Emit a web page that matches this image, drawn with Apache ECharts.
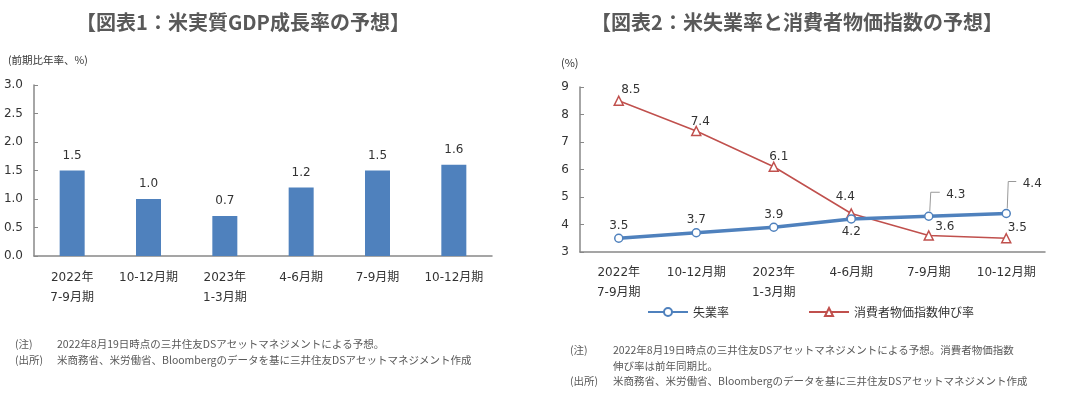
<!DOCTYPE html>
<html>
<head>
<meta charset="utf-8">
<script src="https://cdn.jsdelivr.net/npm/echarts@6/dist/echarts.min.js"></script>
<style>
  html, body { margin: 0; padding: 0; background: #fff; }
  #main { width: 1075px; height: 397px; }
</style>
</head>
<body>
<div id="main"></div>
<script>
// 四半期のカテゴリ
var quarters = ["2022年\n7-9月期", "10-12月期", "2023年\n1-3月期", "4-6月期", "7-9月期", "10-12月期"];
// 図表1：実質GDP成長率
var gdpGrowth = [1.5, 1.0, 0.7, 1.2, 1.5, 1.6];
// 図表2：失業率と消費者物価指数伸び率
var unemployment = [3.5, 3.7, 3.9, 4.2, 4.3, 4.4];
var cpiGrowth = [8.5, 7.4, 6.1, 4.4, 3.6, 3.5];

var numFont = "'DejaVu Sans', 'Noto Sans CJK JP', sans-serif";
var jpFont = "'Noto Sans CJK JP', sans-serif";
var textColor = "#333";
var noteColor = "#595959";
var axisColor = "#888";

var myChart = echarts.init(document.getElementById("main"));

// 引き出し線付きラベルのずれ（7-9月期, 10-12月期）
var leaderOffsets = { 4: [27, -9], 5: [26, -17] };

var unempData = unemployment.map(function (v, i) {
  var item = { value: v };
  if (i === 3) {
    item.label = { position: "bottom", distance: 2 };
  } else if (leaderOffsets[i]) {
    item.label = { offset: leaderOffsets[i] };
  }
  return item;
});

var cpiOffsets = [[12, 0], [4, 2], [5, 1], [-6, -5], [16, 3], [11, 1]];
var cpiData = cpiGrowth.map(function (v, i) {
  return { value: v, label: { offset: cpiOffsets[i] } };
});

function noteText(x, y, txt) {
  return {
    type: "text", left: x, top: y,
    style: { text: txt, font: "10.5px " + jpFont, fill: noteColor }
  };
}

var option = {
  animation: false,
  textStyle: { fontFamily: numFont },
  grid: [
    { left: 34, top: 85, width: 458, height: 171 },
    { left: 580, top: 87, width: 465, height: 165 }
  ],
  xAxis: [
    {
      gridIndex: 0, type: "category", data: quarters,
      axisLine: { lineStyle: { color: axisColor, width: 1.5 } },
      axisTick: { inside: true, length: 4, lineStyle: { color: axisColor } },
      axisLabel: { interval: 0, margin: 12, color: textColor, fontSize: 12, lineHeight: 20, fontFamily: numFont }
    },
    {
      gridIndex: 1, type: "category", data: quarters,
      axisLine: { lineStyle: { color: axisColor, width: 1.5 } },
      axisTick: { inside: true, length: 4, lineStyle: { color: axisColor } },
      axisLabel: { interval: 0, margin: 11, color: textColor, fontSize: 12, lineHeight: 20, fontFamily: numFont }
    }
  ],
  yAxis: [
    {
      gridIndex: 0, type: "value", min: 0, max: 3, interval: 0.5,
      axisLine: { show: true, lineStyle: { color: axisColor, width: 1.5 } },
      axisTick: { show: true, inside: true, length: 4, lineStyle: { color: axisColor } },
      splitLine: { show: false },
      axisLabel: {
        margin: 11, color: textColor, fontSize: 12, fontFamily: numFont,
        formatter: function (v) { return v.toFixed(1); }
      }
    },
    {
      gridIndex: 1, type: "value", min: 3, max: 9, interval: 1,
      axisLine: { show: true, lineStyle: { color: axisColor, width: 1.5 } },
      axisTick: { show: true, inside: true, length: 4, lineStyle: { color: axisColor } },
      splitLine: { show: false },
      axisLabel: { margin: 11, color: textColor, fontSize: 12, fontFamily: numFont }
    }
  ],
  legend: {
    left: 642, top: 301,
    itemWidth: 40, itemHeight: 10, itemGap: 79,
    textStyle: { fontFamily: jpFont, fontSize: 12, color: textColor },
    data: ["失業率", "消費者物価指数伸び率"]
  },
  series: [
    {
      name: "実質GDP成長率", type: "bar",
      xAxisIndex: 0, yAxisIndex: 0,
      data: gdpGrowth, barWidth: 25,
      itemStyle: { color: "#4f81bd" },
      label: {
        show: true, position: "top", distance: 9,
        color: textColor, fontSize: 12, fontFamily: numFont,
        formatter: function (p) { return p.value.toFixed(1); }
      }
    },
    {
      name: "失業率", type: "line",
      xAxisIndex: 1, yAxisIndex: 1,
      data: unempData,
      symbol: "circle", symbolSize: 8,
      lineStyle: { color: "#4f81bd", width: 3.5 },
      itemStyle: { color: "#fff", borderColor: "#4f81bd", borderWidth: 1.5 },
      label: {
        show: true, position: "top", distance: 2,
        color: textColor, fontSize: 12, fontFamily: numFont,
        formatter: function (p) { return p.value.toFixed(1); }
      },
      z: 3
    },
    {
      name: "消費者物価指数伸び率", type: "line",
      xAxisIndex: 1, yAxisIndex: 1,
      data: cpiData,
      symbol: "triangle", symbolSize: 9,
      lineStyle: { color: "#c0504d", width: 1.5 },
      itemStyle: { color: "#fff", borderColor: "#c0504d", borderWidth: 1.5 },
      label: {
        show: true, position: "top", distance: 0,
        color: textColor, fontSize: 12, fontFamily: numFont,
        formatter: function (p) { return p.value.toFixed(1); }
      },
      z: 2
    }
  ],
  graphic: [
    {
      type: "text", x: 243, y: 22,
      style: { text: "【図表1：米実質GDP成長率の予想】", font: "bold 20px " + jpFont, fill: noteColor, align: "center", verticalAlign: "middle" }
    },
    {
      type: "text", x: 797, y: 22,
      style: { text: "【図表2：米失業率と消費者物価指数の予想】", font: "bold 20px " + jpFont, fill: noteColor, align: "center", verticalAlign: "middle" }
    },
    {
      type: "text", left: 8, top: 55,
      style: { text: "(前期比年率、%)", font: "10.5px " + jpFont, fill: textColor }
    },
    {
      type: "text", left: 561, top: 57,
      style: { text: "(%)", font: "11px " + jpFont, fill: textColor }
    },
    noteText(15, 339, "(注)"),
    noteText(57, 339, "2022年8月19日時点の三井住友DSアセットマネジメントによる予想。"),
    noteText(15, 355, "(出所)"),
    noteText(57, 355, "米商務省、米労働省、Bloombergのデータを基に三井住友DSアセットマネジメント作成"),
    noteText(570, 345, "(注)"),
    noteText(613, 345, "2022年8月19日時点の三井住友DSアセットマネジメントによる予想。消費者物価指数"),
    noteText(613, 361, "伸び率は前年同期比。"),
    noteText(570, 376, "(出所)"),
    noteText(613, 376, "米商務省、米労働省、Bloombergのデータを基に三井住友DSアセットマネジメント作成")
  ]
};

myChart.setOption(option);

// 引き出し線：点の位置はチャートの座標系から求める
var leaders = [];
Object.keys(leaderOffsets).forEach(function (k) {
  var i = +k;
  var off = leaderOffsets[i];
  var p = myChart.convertToPixel({ gridIndex: 1 }, [i, unemployment[i]]);
  var ly = p[1] + off[1] - 15;
  leaders.push({
    type: "polyline",
    id: "leader" + i,
    z: 10,
    shape: { points: [[p[0] + 1, p[1] - 5], [p[0] + 2, ly], [p[0] + off[0] - 16, ly]] },
    style: { stroke: "#999", lineWidth: 1, fill: null }
  });
});
myChart.setOption({ graphic: leaders });
</script>
</body>
</html>
